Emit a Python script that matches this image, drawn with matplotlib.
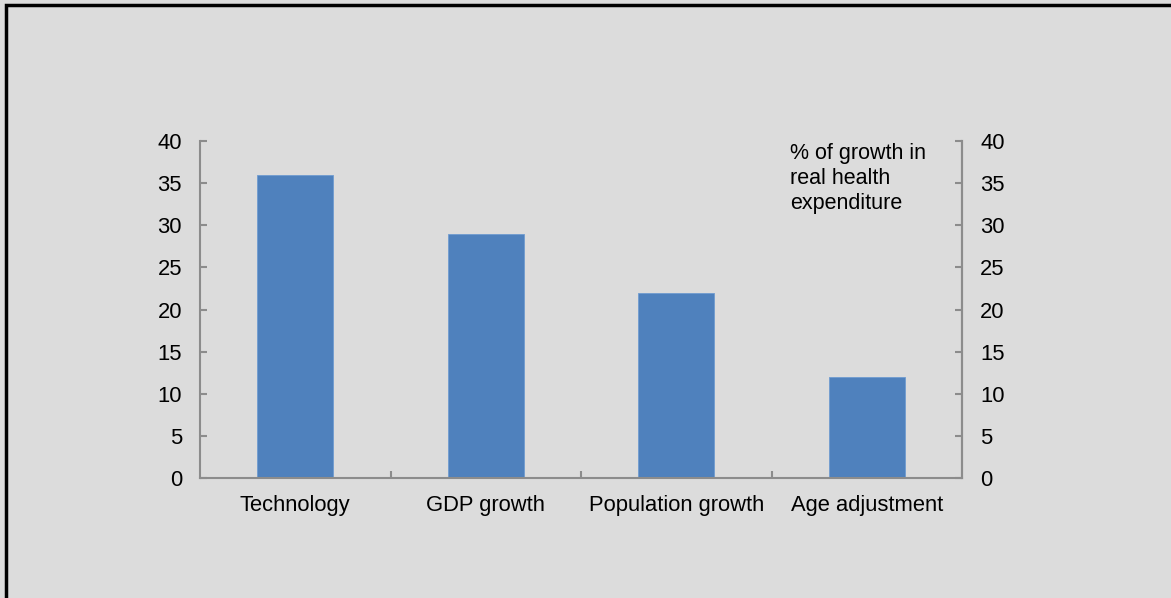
import matplotlib
matplotlib.use('Agg')
import matplotlib.pyplot as plt
from matplotlib.patches import Rectangle

categories = ["Technology", "GDP growth", "Population growth", "Age adjustment"]
values = [36, 29, 22, 12]
yticks = [0, 5, 10, 15, 20, 25, 30, 35, 40]
note = "% of growth in\nreal health\nexpenditure"

plt.rcParams['font.family'] = ['Liberation Sans', 'DejaVu Sans']
bg = '#dcdcdc'
spine_col = '#8c8c8c'
fs = 15.8

fig = plt.figure(figsize=(11.71, 5.98), dpi=100, facecolor=bg)
# black frame (only top/left visible in the original crop)
fig.patches.append(Rectangle((6 / 1171, -0.1), 1.2, 1.1 - 5 / 598, transform=fig.transFigure,
                             fill=False, edgecolor='black', linewidth=2.5))

ax = fig.add_axes([200 / 1171, 1 - 478 / 598, 762 / 1171, 337 / 598])
ax.set_facecolor(bg)
x = range(len(categories))
ax.bar(x, values, width=0.4, color='#4f81bd', edgecolor='#6f9bd0', linewidth=0.6)

ax.set_xlim(-0.5, 3.5)
ax.set_ylim(0, 40)
ax.set_yticks(yticks)
ax.set_xticks(list(x))
ax.set_xticklabels(categories, fontsize=fs)
ax.set_xticks([0.5, 1.5, 2.5], minor=True)
ax.tick_params(axis='x', which='major', length=0, pad=12)
ax.tick_params(axis='x', which='minor', direction='in', length=5, color=spine_col, width=1.5)
ax.tick_params(axis='y', direction='in', length=5, color=spine_col, width=1.5, labelsize=fs, pad=13)

for s in ['top']:
    ax.spines[s].set_visible(False)
for s in ['left', 'bottom', 'right']:
    ax.spines[s].set_color(spine_col)
    ax.spines[s].set_linewidth(1.5)

ax2 = ax.twinx()
ax2.set_ylim(0, 40)
ax2.set_yticks(yticks)
ax2.tick_params(axis='y', direction='in', length=5, color=spine_col, width=1.5, labelsize=fs, pad=13)
for s in ['top', 'left', 'bottom']:
    ax2.spines[s].set_visible(False)
ax2.spines['right'].set_color(spine_col)
ax2.spines['right'].set_linewidth(1.5)

ax.text(790 / 1171, 1 - 143 / 598, note, transform=fig.transFigure, fontsize=15.5,
        va='top', ha='left', linespacing=1.25)

fig.savefig('out.png', dpi=100, facecolor=bg)
